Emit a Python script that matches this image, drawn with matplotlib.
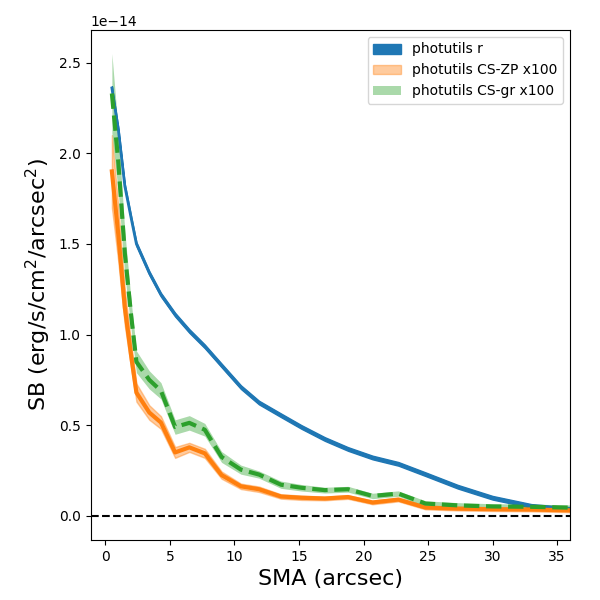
import numpy as np
import matplotlib
matplotlib.use("Agg")
import matplotlib.pyplot as plt

# semi-major axis (arcsec)
sma = np.array([0.5, 1.0, 1.5, 2.0, 2.4, 3.4, 4.3, 5.4, 6.5, 7.7, 9.0, 10.5, 11.9,
                13.6, 15.2, 17.0, 18.8, 20.7, 22.7, 24.8, 27.3, 30.0, 33.0, 36.3, 40.0])

# surface brightness, units of 1e-14
sb_r = np.array([2.36, 2.13, 1.82, 1.64, 1.50, 1.34, 1.22, 1.11, 1.02, 0.935, 0.83, 0.71, 0.625,
                 0.555, 0.49, 0.424, 0.369, 0.322, 0.287, 0.23, 0.161, 0.10, 0.055, 0.036, 0.02])
err_r = np.array([0.01] * len(sma))

sb_zp = np.array([1.90, 1.55, 1.15, 0.88, 0.68, 0.57, 0.515, 0.35, 0.378, 0.345, 0.225, 0.163, 0.147,
                  0.107, 0.10, 0.096, 0.104, 0.074, 0.09, 0.046, 0.04, 0.037, 0.035, 0.03, 0.025])
err_zp = np.array([0.20, 0.15, 0.10, 0.07, 0.05, 0.04, 0.035, 0.03, 0.025, 0.025, 0.02, 0.015, 0.015,
                   0.012, 0.012, 0.01, 0.01, 0.01, 0.01, 0.01, 0.01, 0.01, 0.01, 0.01, 0.01])

sb_gr = np.array([2.33, 1.95, 1.45, 1.10, 0.85, 0.75, 0.69, 0.49, 0.513, 0.475, 0.325, 0.255, 0.228,
                  0.172, 0.155, 0.142, 0.147, 0.11, 0.123, 0.068, 0.058, 0.052, 0.05, 0.045, 0.04])
err_gr = np.array([0.22, 0.17, 0.12, 0.08, 0.06, 0.05, 0.045, 0.04, 0.04, 0.035, 0.03, 0.025, 0.02,
                   0.02, 0.018, 0.016, 0.016, 0.015, 0.015, 0.015, 0.015, 0.015, 0.015, 0.015, 0.015])

scale = 1e-14

fig = plt.figure(figsize=(6, 6), dpi=100)
ax = fig.add_axes([0.151, 0.1, 0.799, 0.85])

ax.fill_between(sma, (sb_r - err_r) * scale, (sb_r + err_r) * scale, color='tab:blue', label='photutils r')
ax.plot(sma, sb_r * scale, color='tab:blue', lw=2)

ax.fill_between(sma, (sb_zp - err_zp) * scale, (sb_zp + err_zp) * scale, color='tab:orange', alpha=0.4,
                label='photutils CS-ZP x100')
ax.plot(sma, sb_zp * scale, color='tab:orange', lw=3)

ax.fill_between(sma, (sb_gr - err_gr) * scale, (sb_gr + err_gr) * scale, color='tab:green', alpha=0.4,
                lw=0, label='photutils CS-gr x100')
ax.plot(sma, sb_gr * scale, color='tab:green', lw=3, ls='--')

ax.axhline(0, color='k', ls='--')

ax.set_xlim(-1.15, 36)
ax.set_ylim(-0.133e-14, 2.68e-14)
ax.set_xlabel('SMA (arcsec)', fontsize=16)
ax.set_ylabel('SB (erg/s/cm$^2$/arcsec$^2$)', fontsize=16)
ax.legend(loc='upper right')

fig.savefig('out.png', dpi=100)
